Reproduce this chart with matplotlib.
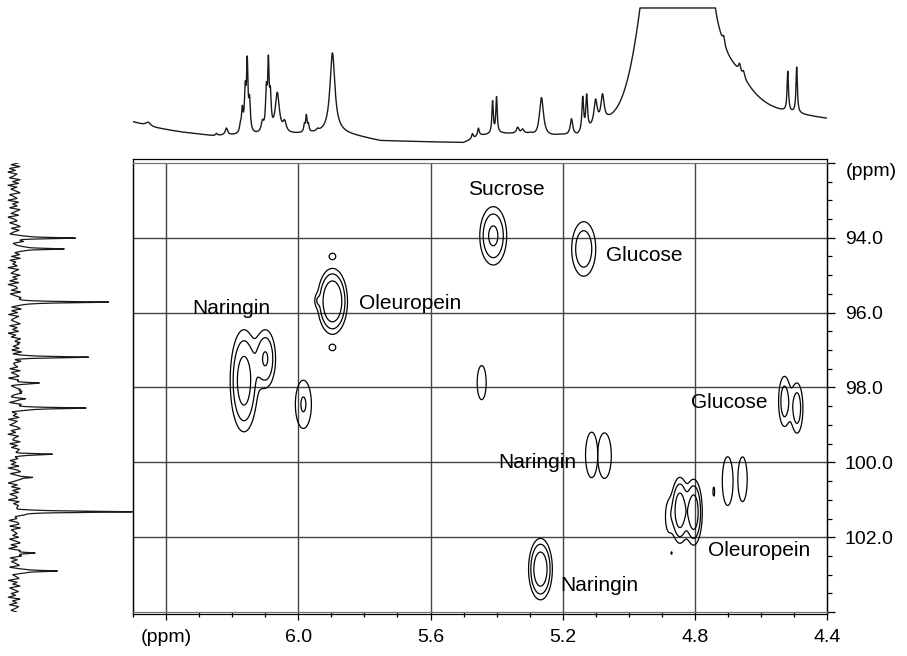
import numpy as np
import matplotlib
matplotlib.use('Agg')
import matplotlib.pyplot as plt
from matplotlib.ticker import MultipleLocator

plt.rcParams['font.family'] = ['Liberation Sans', 'DejaVu Sans']

# 1H projection: line list (ppm, height, half-width in ppm)
h_ppm = [6.455, 6.248, 6.218, 6.176, 6.170, 6.161, 6.155, 6.148,
         6.109, 6.097, 6.091, 6.085, 6.064, 6.042,
         5.982, 5.976, 5.970, 5.942, 5.897,
         5.473, 5.455, 5.412, 5.400, 5.336, 5.321, 5.264,
         5.173, 5.139, 5.127, 5.100, 5.079,
         4.742, 4.712, 4.676, 4.664, 4.652,
         4.518, 4.491]
h_height = [4, 2, 7, 6, 22, 40, 65, 30,
            10, 38, 62, 32, 40, 10,
            7, 16, 7, 2, 80,
            5, 8, 32, 36, 6, 4, 40,
            16, 34, 34, 25, 27,
            10, 8, 40, 8, 6,
            40, 46]
h_width = [0.009, 0.003, 0.0045, 0.003, 0.003, 0.003, 0.0025, 0.003,
           0.0045, 0.003, 0.0025, 0.003, 0.0075, 0.006,
           0.0025, 0.0025, 0.0025, 0.0045, 0.009,
           0.003, 0.003, 0.0025, 0.0025, 0.0045, 0.0045, 0.0075,
           0.0045, 0.003, 0.003, 0.006, 0.006,
           0.003, 0.004, 0.076, 0.004, 0.004,
           0.0025, 0.0025]
# slowly varying baseline of the 1H trace
h_base_ppm = [6.50, 6.448, 6.358, 6.258, 6.055, 5.873, 5.752, 5.50, 5.448, 5.388,
              5.297, 5.276, 5.206, 5.155, 5.10, 5.061, 4.964, 4.782, 4.60, 4.479, 4.40]
h_base_val = [23, 18, 13, 9, 10, 12, 4, 2, 9, 11,
              10, 6, 9, 8, 16, 20, 20, 26, 26, 26, 24]
# residual water signal (clipped at the top of the display)
water_ppm = 4.858
water_height = 372
water_sigma = 0.070
h_clip = 137

# 13C projection: line list and baseline noise (0.05 ppm steps, 92 -> 104)
c_ppm = [94.01, 94.30, 95.72, 96.80, 97.19, 97.88, 98.10, 98.30, 98.55,
         99.78, 100.40, 101.32, 102.42, 102.90]
c_height = [61, 56, 97, 10, 72, 22, 10, 8, 69, 37, 20, 116, 22, 45]
c_noise = [3, -2, 4, -3, 1, -4, 2, 0, -3, 4, -1, 3, -4, 2, -2, 1, 4, -3, 0, 2,
           -4, 3, -1, 2, -3, 4, 1, -2, 3, -4, 0, 2, -3, 1, 4, -2, 3, -1, -4, 2,
           1, -3, 4, -2, 0, 3, -4, 2, -1, 3, -2, 4, -3, 1, -1, 2, -4, 3, 0, -2,
           4, -1, 2, -3, 3, -4, 1, 2, -2, 4, -3, 0, 3, -1, -4, 2, 1, -3, 4, -2,
           2, -4, 3, 0, -2, 1, 4, -3, 2, -1, 3, -4, 1, -2, 4, 0, -3, 2, -1, 3,
           -2, 4, -3, 1, 2, -4, 3, -1, 0, 2, -3, 4, -2, 1, 3, -4, 2, -1, 4, -3,
           0, 3, -2, 4, -1, -3, 2, 1, -4, 3, -2, 2, 4, -3, 1, -1, 3, -4, 2, 0,
           -3, 2, 4, -2, 1, -4, 3, 0, -1, 4, -3, 2, -2, 3, 1, -4, 4, -1, 2, -3,
           1, -2, 3, -4, 2, 4, -3, 1, -1, 3, 0, -4, 2, -2, 4, -1, 3, -3, 1, 2,
           -4, 3, -1, 2, 0, -3, 4, -2, 3, -1, 1, -4, 2, 3, -3, 4, -2, 0, 2, -1,
           3, -3, 1, 4, -2, 2, -4, 3, -1, 0, 4, -3, 2, -2, 1, 3, -4, 2, -1, 4,
           -2, 1, 3, -4, 2, -1, 4, -3, 0, 3, -2, 1, -4, 4, -1, 2, -3, 3, 1, -2,
           2]

# HSQC cross peaks: 1H ppm, 13C ppm, amplitude, widths, contour group
xp_h = [5.410, 5.136, 5.897, 5.943, 5.897, 5.897, 6.165, 6.100, 5.985, 5.445,
        4.528, 4.490, 5.112, 5.073, 4.700, 4.655, 4.742,
        4.845, 4.803, 4.879, 4.870, 5.267]
xp_c = [93.95, 94.30, 95.70, 95.68, 94.50, 96.93, 97.82, 97.23, 98.45, 97.87,
        98.37, 98.55, 99.80, 99.82, 100.50, 100.45, 100.78,
        101.28, 101.33, 101.45, 102.42, 102.85]
xp_amp = [4.8, 3.5, 9.5, 1.2, 1.25, 1.25, 6.0, 4.3, 2.15, 1.6,
          3.0, 3.0, 1.8, 1.8, 1.8, 1.8, 1.2,
          6.7, 6.7, 1.5, 1.15, 7.4]
xp_sh = [0.023, 0.023, 0.0215, 0.006, 0.015, 0.015, 0.022, 0.018, 0.0196, 0.014,
         0.012, 0.012, 0.017, 0.019, 0.015, 0.013, 0.004,
         0.0134, 0.0134, 0.010, 0.003, 0.018]
xp_sc = [0.44, 0.46, 0.415, 0.12, 0.13, 0.13, 0.72, 0.45, 0.52, 0.47,
         0.45, 0.45, 0.56, 0.56, 0.60, 0.55, 0.20,
         0.45, 0.45, 0.40, 0.06, 0.41]
xp_group = [0, 1, 2, 2, 3, 4, 5, 5, 6, 7,
            8, 8, 9, 10, 11, 12, 13,
            14, 14, 14, 15, 16]
levels = [1, 2, 4]

label_text = ['Sucrose', 'Glucose', 'Oleuropein', 'Naringin',
              'Glucose', 'Naringin', 'Oleuropein', 'Naringin']
label_x = [5.485, 5.070, 5.818, 6.323, 4.812, 5.394, 4.761, 5.206]
label_y = [92.86, 94.62, 95.90, 96.04, 98.55, 100.15, 102.50, 103.44]

fig = plt.figure(figsize=(9.07, 6.56), dpi=100)
ax = fig.add_axes([0.147, 0.0668, 0.7645, 0.685])
ax_top = fig.add_axes([0.147, 0.779, 0.7645, 0.2134])
ax_left = fig.add_axes([0.0033, 0.0668, 0.1433, 0.685])

# --- 1H trace on top
h_axis = np.linspace(6.5, 4.4, 4000)
h_trace = np.interp(h_axis, h_base_ppm[::-1], h_base_val[::-1])
for p, a, w in zip(h_ppm, h_height, h_width):
    h_trace += a / (1 + ((h_axis - p) / w) ** 2)
h_trace += water_height * np.exp(-0.5 * ((h_axis - water_ppm) / water_sigma) ** 2)
h_trace = np.minimum(h_trace, h_clip)
ax_top.plot(h_axis, h_trace, color='#1a1a1a', lw=1.0)
ax_top.set_xlim(6.5, 4.4)
ax_top.set_ylim(0, 140)
ax_top.axis('off')

# --- 13C trace on the left
c_axis = np.linspace(92, 104, 4000)
c_trace = 11 + 1.5 * np.interp(c_axis, np.linspace(92, 104, len(c_noise)), c_noise)
for p, a in zip(c_ppm, c_height):
    c_trace += a / (1 + ((c_axis - p) / 0.02) ** 2)
ax_left.plot(c_trace, c_axis, color='#1a1a1a', lw=0.9)
ax_left.set_xlim(0, 130)
ax_left.set_ylim(104, 92)
ax_left.axis('off')

# --- 2D contour map
gx = np.linspace(6.5, 4.4, 1600)
gy = np.linspace(92, 104, 1400)
X, Y = np.meshgrid(gx, gy)
xp_group = np.array(xp_group)
for g in np.unique(xp_group):
    Z = np.zeros_like(X)
    for i in np.where(xp_group == g)[0]:
        Z += xp_amp[i] * np.exp(-0.5 * (((X - xp_h[i]) / xp_sh[i]) ** 2
                                         + ((Y - xp_c[i]) / xp_sc[i]) ** 2))
    ax.contour(X, Y, Z, levels=levels, colors='k', linewidths=0.9, zorder=3)

for xv in [6.4, 6.0, 5.6, 5.2, 4.8]:
    ax.axvline(xv, color='#444444', lw=1.0, zorder=1)
for yv in [94, 96, 98, 100, 102]:
    ax.axhline(yv, color='#444444', lw=1.0, zorder=1)

for t, x, y in zip(label_text, label_x, label_y):
    ax.text(x, y, t, fontsize=15, ha='left', va='baseline', zorder=4)

ax.set_xlim(6.5, 4.4)
ax.set_ylim(104, 92)
ax.set_xticks([6.4, 6.0, 5.6, 5.2, 4.8, 4.4])
ax.set_xticklabels(['(ppm)', '6.0', '5.6', '5.2', '4.8', '4.4'])
ax.xaxis.set_minor_locator(MultipleLocator(0.1))
ax.yaxis.tick_right()
ax.set_yticks([92, 94, 96, 98, 100, 102, 104])
ax.set_yticklabels(['', '94.0', '96.0', '98.0', '100.0', '102.0', ''])
ax.yaxis.set_minor_locator(MultipleLocator(0.5))
ax.tick_params(axis='both', which='major', direction='out', length=6, width=0.9,
               labelsize=14, colors='k')
ax.tick_params(axis='both', which='minor', direction='out', length=3.5, width=0.9)
ax.tick_params(axis='x', pad=6)
ax.tick_params(axis='y', pad=7)
ax.text(4.342, 92.24, '(ppm)', fontsize=14, ha='left', va='center', clip_on=False)

for s in ax.spines.values():
    s.set_linewidth(0.9)
ax.spines['top'].set_color('#777777')
ax.spines['bottom'].set_color('#777777')

# outer rules of the double frame
top_off = 1 + 3.6 / 449.4
bot_off = -2.3 / 449.4
ax.plot([0, 1], [top_off, top_off], transform=ax.transAxes, color='k', lw=0.9, clip_on=False)
ax.plot([0, 1], [bot_off, bot_off], transform=ax.transAxes, color='k', lw=0.9, clip_on=False)
ax.plot([0, 0], [bot_off, top_off], transform=ax.transAxes, color='k', lw=0.9, clip_on=False)
ax.plot([1, 1], [bot_off, top_off], transform=ax.transAxes, color='k', lw=0.9, clip_on=False)

fig.savefig('out.png', dpi=100)
